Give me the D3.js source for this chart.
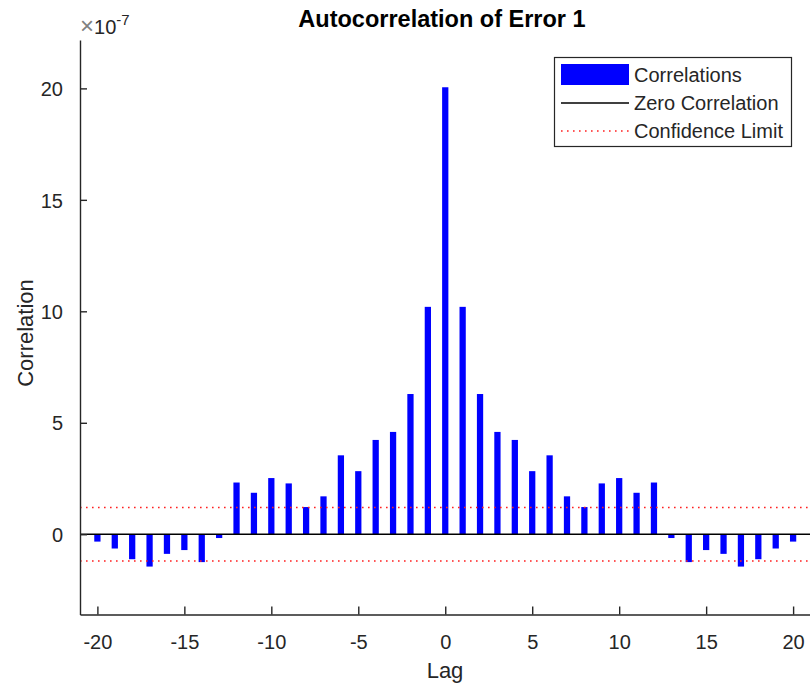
<!DOCTYPE html>
<html>
<head>
<meta charset="utf-8">
<script src="https://cdn.jsdelivr.net/npm/d3@7"></script>
<style>
  html, body { margin: 0; padding: 0; background: #fff; }
  svg { display: block; }
  text { font-family: "Liberation Sans", Arial, Helvetica, sans-serif; }
</style>
</head>
<body>
<svg id="chart" width="810" height="689"></svg>
<script>
'use strict';

// lags and correlations (units of 1e-7)
var lags = [-20, -19, -18, -17, -16, -15, -14, -13, -12, -11, -10, -9, -8, -7, -6, -5, -4, -3, -2, -1,
    0, 1, 2, 3, 4, 5, 6, 7, 8, 9, 10, 11, 12, 13, 14, 15, 16, 17, 18, 19, 20];
var correlations = [-0.33, -0.64, -1.12, -1.45, -0.88, -0.71, -1.25, -0.17, 2.32, 1.86, 2.52, 2.28, 1.22, 1.7, 3.54, 2.83, 4.23, 4.59, 6.29, 10.2,
    20.05, 10.2, 6.29, 4.59, 4.23, 2.83, 3.54, 1.7, 1.22, 2.28, 2.52, 1.86, 2.32, -0.17, -1.25, -0.71, -0.88, -1.45, -1.12, -0.64, -0.33];
var confidenceLimit = 1.2;
var xTicks = [-20, -15, -10, -5, 0, 5, 10, 15, 20];
var yTicks = [0, 5, 10, 15, 20];
var legendLabels = ['Correlations', 'Zero Correlation', 'Confidence Limit'];

var axisColor = '#262626';
var plotLeft = 80, plotRight = 810.5, plotTop = 40, plotBottom = 614.5;

var svg = d3.select('#chart');

var x = d3.scaleLinear().domain([-21, 21]).range([plotLeft, plotRight]);
var y = d3.scaleLinear().domain([-3.6, 22.17]).range([plotBottom, plotTop]);

var barW = x(0.36) - x(0);

// bars
svg.append('g')
    .selectAll('rect')
    .data(lags)
    .enter().append('rect')
    .attr('x', function(d) { return x(d) - barW / 2; })
    .attr('y', function(d, i) { return y(Math.max(0, correlations[i])); })
    .attr('width', barW)
    .attr('height', function(d, i) { return Math.abs(y(correlations[i]) - y(0)); })
    .attr('fill', '#0000ff');

// zero line
svg.append('line')
    .attr('x1', x(-21)).attr('x2', x(21))
    .attr('y1', y(0)).attr('y2', y(0))
    .attr('stroke', '#000').attr('stroke-width', 1.3);

// confidence limits
[confidenceLimit, -confidenceLimit].forEach(function(c) {
    svg.append('line')
        .attr('x1', x(-21)).attr('x2', x(21))
        .attr('y1', y(c)).attr('y2', y(c))
        .attr('stroke', '#ff2020')
        .attr('stroke-width', 1.6)
        .attr('stroke-dasharray', '1.6,4.4');
});

// axes (MATLAB style, ticks pointing in, plain hyphen minus)
var plain = function(d) { return String(d); };
var xAxis = d3.axisBottom(x).tickValues(xTicks).tickFormat(plain)
    .tickSizeInner(-8).tickSizeOuter(0).tickPadding(20);
var gx = svg.append('g')
    .attr('transform', 'translate(0,' + plotBottom + ')')
    .call(xAxis);

var yAxis = d3.axisLeft(y).tickValues(yTicks).tickFormat(plain)
    .tickSizeInner(-7).tickSizeOuter(0).tickPadding(17);
var gy = svg.append('g')
    .attr('transform', 'translate(' + plotLeft + ',0)')
    .call(yAxis);

[gx, gy].forEach(function(g) {
    g.select('.domain').attr('stroke', axisColor).attr('stroke-width', 1.4);
    g.selectAll('.tick line').attr('stroke', axisColor).attr('stroke-width', 1.4);
    g.selectAll('.tick text')
        .attr('fill', axisColor)
        .style('font-size', '20px')
        .style('font-family', '"Liberation Sans", Arial, sans-serif');
});
gy.selectAll('.tick text').attr('dy', '0.36em');
gx.selectAll('.tick text').attr('dy', '0.71em');

// exponent label
var expo = svg.append('text')
    .attr('x', 80).attr('y', 34)
    .attr('fill', axisColor)
    .style('font-size', '20px');
expo.append('tspan').attr('fill', '#808080').style('font-size', '24px').text('\u00d7');
expo.append('tspan').text('10');
expo.append('tspan').attr('dy', -9).style('font-size', '15px').text('-7');

// title and labels
svg.append('text')
    .attr('x', 442).attr('y', 26.5)
    .attr('text-anchor', 'middle')
    .style('font-size', '23.5px').style('font-weight', 'bold')
    .attr('fill', '#000')
    .text('Autocorrelation of Error 1');

svg.append('text')
    .attr('x', 445).attr('y', 678)
    .attr('text-anchor', 'middle')
    .style('font-size', '22px')
    .attr('fill', axisColor)
    .text('Lag');

svg.append('text')
    .attr('transform', 'translate(33,333) rotate(-90)')
    .attr('text-anchor', 'middle')
    .style('font-size', '22px')
    .attr('fill', axisColor)
    .text('Correlation');

// legend
var lg = svg.append('g');
lg.append('rect')
    .attr('x', 554.5).attr('y', 57.5)
    .attr('width', 237).attr('height', 89)
    .attr('fill', '#fff')
    .attr('stroke', axisColor).attr('stroke-width', 1.2);

lg.append('rect')
    .attr('x', 561).attr('y', 64)
    .attr('width', 68).attr('height', 21)
    .attr('fill', '#0000ff');
lg.append('line')
    .attr('x1', 561).attr('x2', 629)
    .attr('y1', 103).attr('y2', 103)
    .attr('stroke', '#000').attr('stroke-width', 1.3);
lg.append('line')
    .attr('x1', 561).attr('x2', 629)
    .attr('y1', 131).attr('y2', 131)
    .attr('stroke', '#ff2020').attr('stroke-width', 1.6)
    .attr('stroke-dasharray', '1.6,4.4');

lg.selectAll('text.lab')
    .data(legendLabels)
    .enter().append('text')
    .attr('class', 'lab')
    .attr('x', 634)
    .attr('y', function(d, i) { return 82 + i * 28; })
    .style('font-size', '20px')
    .attr('fill', axisColor)
    .text(function(d) { return d; });
</script>
</body>
</html>
